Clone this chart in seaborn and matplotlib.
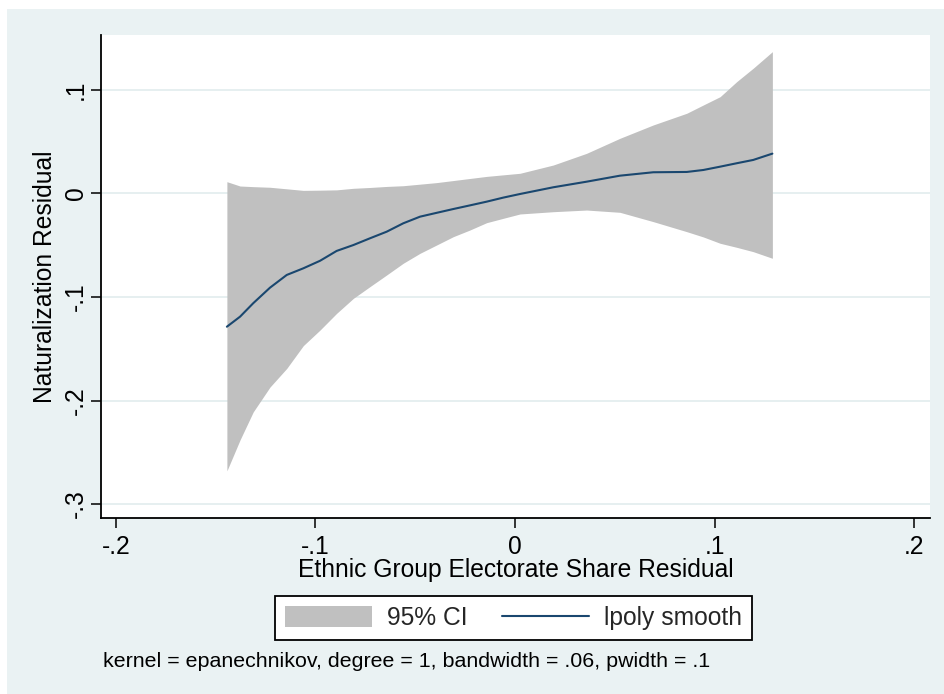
import numpy as np
import pandas as pd
import matplotlib
matplotlib.use("Agg")
import matplotlib.pyplot as plt
import seaborn as sns
from matplotlib.patches import Patch, Rectangle
from matplotlib.lines import Line2D

# ---- data ----
x_grid = [-0.1444, -0.1378, -0.1312, -0.1228, -0.1144, -0.1061, -0.0977, -0.0894,
          -0.0810, -0.0727, -0.0643, -0.0560, -0.0476, -0.0393, -0.0309, -0.0226,
          -0.0142, -0.0059, 0.0025, 0.0192, 0.0359, 0.0526, 0.0693, 0.0861, 0.0944,
          0.1028, 0.1111, 0.1194, 0.1290]
smooth = [-0.1287, -0.119, -0.106, -0.091, -0.0787, -0.0723, -0.0650, -0.0555,
          -0.0498, -0.0433, -0.0369, -0.0288, -0.0224, -0.0187, -0.015, -0.0115,
          -0.0079, -0.004, -0.0005, 0.006, 0.0114, 0.0172, 0.0205, 0.0208, 0.0227,
          0.0259, 0.0292, 0.0324, 0.0385]
ci_low = [-0.268, -0.238, -0.211, -0.187, -0.169, -0.147, -0.1319, -0.1158,
          -0.1013, -0.090, -0.0787, -0.0674, -0.0578, -0.0498, -0.0417, -0.0353,
          -0.0282, -0.024, -0.0198, -0.0176, -0.016, -0.0182, -0.0272, -0.0369,
          -0.042, -0.0481, -0.052, -0.0562, -0.0626]
ci_high = [0.0114, 0.0072, 0.0066, 0.006, 0.0045, 0.003, 0.0032, 0.0035,
           0.005, 0.0058, 0.0068, 0.0075, 0.009, 0.0105, 0.0125, 0.0145,
           0.0165, 0.018, 0.0195, 0.0275, 0.0388, 0.0533, 0.0662, 0.0775, 0.0855,
           0.0935, 0.108, 0.121, 0.137]

x_ticks = [-0.2, -0.1, 0.0, 0.1, 0.2]
x_tick_labels = ["-.2", "-.1", "0", ".1", ".2"]
y_ticks = [-0.3, -0.2, -0.1, 0.0, 0.1]
y_tick_labels = ["-.3", "-.2", "-.1", "0", ".1"]

x_title = "Ethnic Group Electorate Share Residual"
y_title = "Naturalization Residual"
legend_labels = ["95% CI", "lpoly smooth"]
note = "kernel = epanechnikov, degree = 1, bandwidth = .06, pwidth = .1"

# ---- style ----
sns.set_theme(style="white")
plt.rcParams["font.family"] = ["Liberation Sans", "DejaVu Sans"]

BG = "#EAF2F3"
GRID = "#E1ECEE"
CI_COL = "#C0C0C0"
LINE_COL = "#1A476F"
FS = 17.7
FS_NOTE = 15.4

W, H = 945, 694
fig = plt.figure(figsize=(W / 100, H / 100), dpi=100, facecolor="white")
fig.patches.append(Rectangle((7 / W, 0), 1 - 7 / W, 1 - 9 / H, transform=fig.transFigure,
                             facecolor=BG, edgecolor="none", zorder=-5))

ax = fig.add_axes([101 / W, 1 - 518 / H, (930 - 101) / W, (518 - 35) / H])
ax.set_facecolor("white")

df = pd.DataFrame({"x": x_grid, "y": smooth, "lo": ci_low, "hi": ci_high})
ax.fill_between(df["x"], df["lo"], df["hi"], color=CI_COL, linewidth=0, zorder=2)
sns.lineplot(data=df, x="x", y="y", ax=ax, color=LINE_COL, linewidth=1.5,
             legend=False, zorder=3, sort=True, estimator=None)

ax.set_xlim(-0.2075, 0.208)
ax.set_ylim(-0.3135, 0.1531)
ax.set_xticks(x_ticks)
ax.set_xticklabels(x_tick_labels)
ax.set_yticks(y_ticks)
ax.set_yticklabels(y_tick_labels, rotation=90, va="center")
ax.set_xlabel("")
ax.set_ylabel("")

for s in ["top", "right"]:
    ax.spines[s].set_visible(False)
for s in ["left", "bottom"]:
    ax.spines[s].set_color("black")
    ax.spines[s].set_linewidth(1.3)

ax.tick_params(axis="both", which="major", direction="out", length=7.5, width=1.1,
               color="black", labelsize=FS, labelcolor="black",
               bottom=True, left=True)
ax.tick_params(axis="x", pad=4.5)
ax.tick_params(axis="y", pad=2)

ax.yaxis.grid(True, color=GRID, linewidth=1.2)
ax.xaxis.grid(False)
ax.set_axisbelow(True)

fig.text(57 / W, 1 - 276.5 / H, y_title, rotation=90, ha="right", va="center",
         fontsize=FS, color="black")
fig.text(515.5 / W, 1 - 577 / H, x_title, ha="center", va="baseline",
         fontsize=FS, color="black")

handles = [Patch(facecolor=CI_COL, edgecolor="none"),
           Line2D([0], [0], color=LINE_COL, linewidth=1.5)]
leg = fig.legend(handles, legend_labels, loc="center", bbox_to_anchor=(513.5 / W, 1 - 618 / H),
                 ncol=2, fontsize=FS, frameon=True, fancybox=False, shadow=False,
                 handlelength=3.55, handleheight=0.95, handletextpad=0.6,
                 columnspacing=1.42, borderpad=0.4)
frame = leg.get_frame()
frame.set_edgecolor("black")
frame.set_linewidth(1.3)
frame.set_facecolor("white")
frame.set_alpha(1)

fig.text(103 / W, 1 - 667 / H, note, ha="left", va="baseline",
         fontsize=FS_NOTE, color="black")

fig.savefig("out.png", dpi=100, facecolor="white")
